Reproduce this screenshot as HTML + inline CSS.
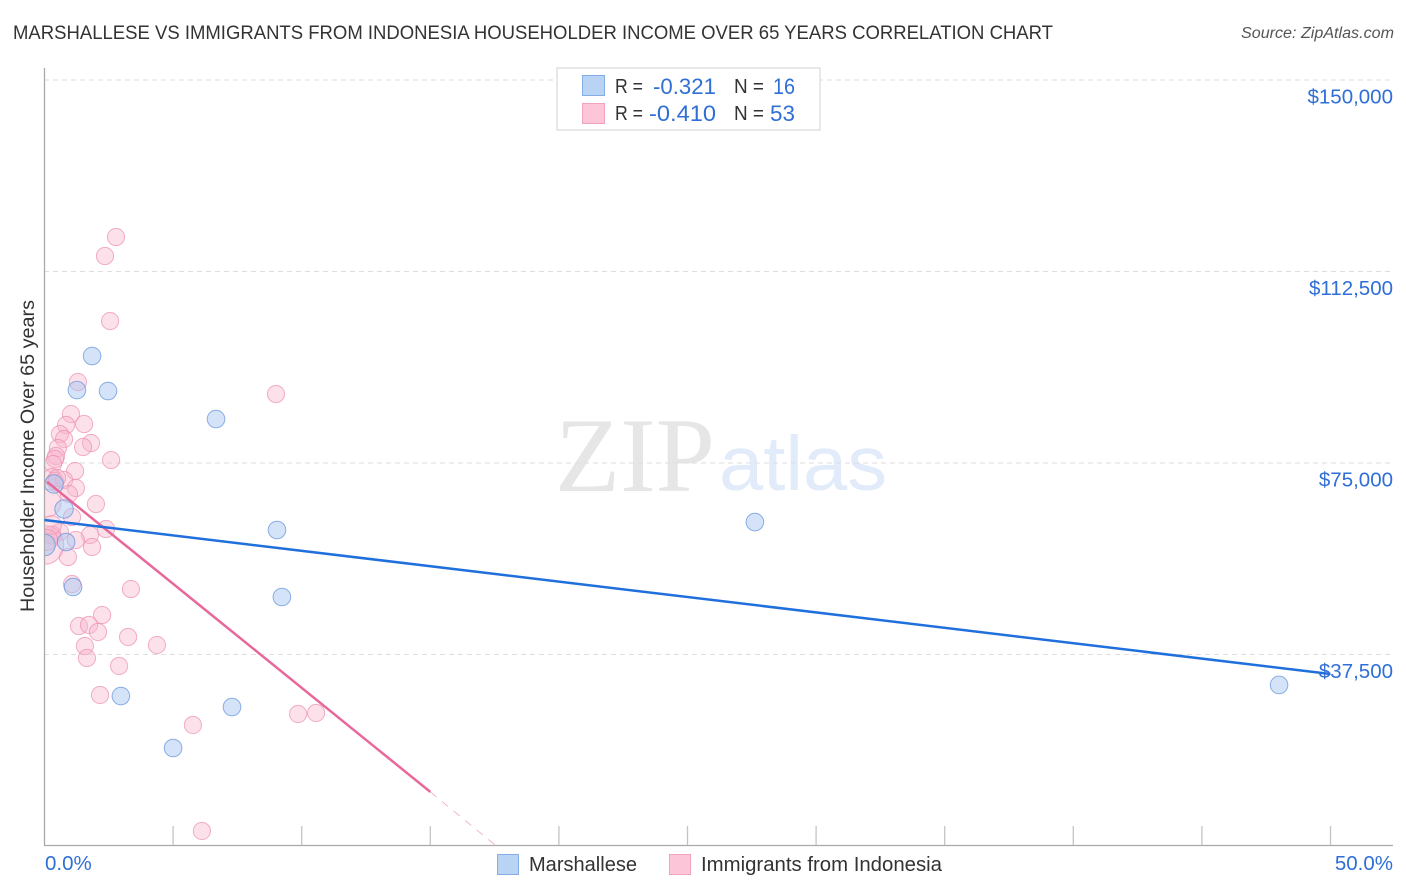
<!DOCTYPE html>
<html lang="en">
<head>
<meta charset="utf-8">
<title>Marshallese vs Immigrants from Indonesia Householder Income Over 65 Years Correlation Chart</title>
<style>
html,body{margin:0;padding:0;background:#fff;width:1406px;height:892px;overflow:hidden}
svg{display:block}
text{font-family:"Liberation Sans",sans-serif}
</style>
</head>
<body>
<svg id="chart" xmlns="http://www.w3.org/2000/svg" width="1406" height="892" viewBox="0 0 1406 892">
  <defs>
    <clipPath id="plot-clip"><rect x="45" y="68" width="1348" height="778"/></clipPath>
  </defs>
  <text x="13" y="39" font-size="19" fill="#333" textLength="1040" lengthAdjust="spacingAndGlyphs">MARSHALLESE VS IMMIGRANTS FROM INDONESIA HOUSEHOLDER INCOME OVER 65 YEARS CORRELATION CHART</text>
  <text x="1241" y="38" font-size="15.5" font-style="italic" fill="#555" textLength="153" lengthAdjust="spacingAndGlyphs">Source: ZipAtlas.com</text>

  <g>
    <text x="555" y="491" font-size="106" fill="#e6e6e6" style="font-family:'Liberation Serif',serif" textLength="160" lengthAdjust="spacingAndGlyphs">ZIP</text>
    <text x="719" y="490" font-size="77" fill="#e2ebf9" textLength="168" lengthAdjust="spacingAndGlyphs">atlas</text>
  </g>

  <g id="grid"></g>
  <g id="axes"></g>
  <g id="pink-points" clip-path="url(#plot-clip)"></g>
  <g id="blue-points" clip-path="url(#plot-clip)"></g>
  <g id="trends"></g>
  <g id="tick-labels"></g>

  <text transform="translate(34,456) rotate(-90)" font-size="19" fill="#333" text-anchor="middle" textLength="312" lengthAdjust="spacingAndGlyphs">Householder Income Over 65 years</text>

  <g>
    <rect x="557" y="68" width="263" height="62" fill="#fff" stroke="#d8d8d8" stroke-width="1.2"/>
    <rect x="582.5" y="75.5" width="22" height="20" fill="#b9d3f5" stroke="#86aee6"/>
    <rect x="582.5" y="103.5" width="22" height="20" fill="#fcc6d8" stroke="#f0a3bd"/>
    <text x="615" y="93" font-size="20" fill="#333" textLength="28" lengthAdjust="spacingAndGlyphs">R =</text>
    <text x="653" y="94" font-size="22" fill="#2f6fd6" textLength="63" lengthAdjust="spacingAndGlyphs">-0.321</text>
    <text x="734" y="93" font-size="20" fill="#333" textLength="30" lengthAdjust="spacingAndGlyphs">N =</text>
    <text x="773" y="94" font-size="22" fill="#2f6fd6" textLength="22" lengthAdjust="spacingAndGlyphs">16</text>
    <text x="615" y="120" font-size="20" fill="#333" textLength="28" lengthAdjust="spacingAndGlyphs">R =</text>
    <text x="649" y="121" font-size="22" fill="#2f6fd6" textLength="67" lengthAdjust="spacingAndGlyphs">-0.410</text>
    <text x="734" y="120" font-size="20" fill="#333" textLength="30" lengthAdjust="spacingAndGlyphs">N =</text>
    <text x="770" y="121" font-size="22" fill="#2f6fd6" textLength="25" lengthAdjust="spacingAndGlyphs">53</text>
  </g>

  <g>
    <rect x="497.5" y="854.5" width="21" height="20" fill="#b9d3f5" stroke="#86aee6"/>
    <text x="529" y="871" font-size="20" fill="#333" textLength="108" lengthAdjust="spacingAndGlyphs">Marshallese</text>
    <rect x="669.5" y="854.5" width="21" height="20" fill="#fcc6d8" stroke="#f0a3bd"/>
    <text x="701" y="871" font-size="20" fill="#333" textLength="241" lengthAdjust="spacingAndGlyphs">Immigrants from Indonesia</text>
  </g>
</svg>

<script>
var yTickValues = [150000, 112500, 75000, 37500];
var yTickLabels = ["$150,000", "$112,500", "$75,000", "$37,500"];
var xTickValues = [0, 5, 10, 15, 20, 25, 30, 35, 40, 45, 50];
var xEndLabels = ["0.0%", "50.0%"];

var marshalleseX = [1.85, 1.26, 2.47, 6.67, 0.37, 0.76, 0.84, 0, 1.11, 9.04, 9.23, 27.62, 2.97, 7.29, 5.0, 48.0];
var marshalleseY = [95950, 89290, 89090, 83610, 70880, 65990, 59530, 58940, 50720, 61880, 48760, 63440, 29370, 27220, 19190, 31530];
var marshalleseWeight = [1, 1, 1, 1, 1.1, 1.1, 1, 1.5, 1, 1, 1, 1, 1, 1, 1, 1];

var indonesiaX = [2.78, 2.35, 2.55, 9.0, 1.30, 1.03, 1.54, 0.84, 0.60, 0.76, 1.81, 1.50, 0.52, 0.45, 2.59, 0.41, 0.33, 1.19, 0.29, 0.41, 0.76, 1.22, 0.95, 2.0, 1.07, 0.10, 2.39, 0.60, 1.77, 1.22, 0.29, 1.85, 0.91, 1.07, 3.36, 2.24, 1.34, 1.73, 2.08, 3.25, 4.37, 1.57, 1.65, 2.90, 2.16, 5.77, 9.86, 10.56, 6.12, 0, 0.29, 0.10, 0.49];
var indonesiaY = [119250, 115530, 102800, 88510, 90860, 84590, 82630, 82440, 80670, 79700, 78910, 78130, 77930, 76370, 75580, 75780, 74800, 73430, 72250, 71470, 71670, 70100, 68930, 66970, 64420, 67160, 62070, 61490, 60900, 59920, 60900, 58550, 56590, 51300, 50320, 45230, 43080, 43280, 41910, 40930, 39360, 39160, 36810, 35250, 29570, 23700, 25850, 26050, 2940, 58940, 62860, 59920, 72060];
var indonesiaWeight = [1, 1, 1, 1, 1, 1, 1, 1, 1, 1, 1, 1, 1, 1, 1, 1, 1, 1, 1, 1, 1, 1, 1, 1, 1, 2.6, 1, 1, 1, 1, 1.1, 1, 1, 1, 1, 1, 1, 1, 1, 1, 1, 1, 1, 1, 1, 1, 1, 1, 1, 5, 1.2, 1.5, 1];

var marshalleseTrendX = [0, 50];
var marshalleseTrendY = [63835, 33680];
var indonesiaTrendX = [0.1, 15];
var indonesiaTrendY = [71300, 10600];
var indonesiaDashX = [15, 17.57];
var indonesiaDashY = [10600, 0];

var NS = "http://www.w3.org/2000/svg";
function sx(v) { return 44.5 + v * 25.72; }
function sy(v) { return 654.5 - (v - 37500) * 191.5 / 37500; }
function make(parent, tag, attrs) {
  var el = document.createElementNS(NS, tag);
  for (var k in attrs) { el.setAttribute(k, attrs[k]); }
  document.getElementById(parent).appendChild(el);
  return el;
}

yTickValues.forEach(function (v, i) {
  var line = make("grid", "line", { x1: 44, x2: 1393, y1: sy(v), y2: sy(v), stroke: "#dedede", "stroke-width": 1, "stroke-dasharray": "5 4" });
  
  
  var label = make("tick-labels", "text", { x: 1393, y: sy(v) + 23.5, "font-size": 20.5, fill: "#2f6fd6", "text-anchor": "end" });
  label.textContent = yTickLabels[i];
  
  
});

var yAxis = make("axes", "line", { x1: 44.5, x2: 44.5, y1: 68, y2: 846, stroke: "#aaa", "stroke-width": 1.3 });


var xAxis = make("axes", "line", { x1: 44, x2: 1393, y1: 845.5, y2: 845.5, stroke: "#aaa", "stroke-width": 1.3 });



xTickValues.slice(1).forEach(function (v) {
  var tick = make("axes", "line", { x1: sx(v), x2: sx(v), y1: 826, y2: 845, stroke: "#c4c4c4", "stroke-width": 1.3 });
  
  
});

var xLabelStart = make("tick-labels", "text", { x: 45, y: 870, "font-size": 20.5, fill: "#2f6fd6" });
xLabelStart.textContent = xEndLabels[0];


var xLabelEnd = make("tick-labels", "text", { x: 1393, y: 870, "font-size": 20.5, fill: "#2f6fd6", "text-anchor": "end" });
xLabelEnd.textContent = xEndLabels[1];



indonesiaX.forEach(function (x, i) {
  var c = make("pink-points", "circle", { cx: sx(x), cy: sy(indonesiaY[i]), r: 8.6 * Math.sqrt(indonesiaWeight[i]), fill: "#f9b6cc", "fill-opacity": 0.42, stroke: "#ec8fae", "stroke-opacity": 0.7, "stroke-width": 1 });
  
  
});

marshalleseX.forEach(function (x, i) {
  var c = make("blue-points", "circle", { cx: sx(x), cy: sy(marshalleseY[i]), r: 8.8 * Math.sqrt(marshalleseWeight[i]), fill: "#a9c8f2", "fill-opacity": 0.5, stroke: "#5f92dc", "stroke-opacity": 0.7, "stroke-width": 1 });
  
  
});

var dash = make("trends", "line", { x1: sx(indonesiaDashX[0]), y1: sy(indonesiaDashY[0]), x2: sx(indonesiaDashX[1]), y2: sy(indonesiaDashY[1]), stroke: "#e8689b", "stroke-width": 0.8, "stroke-dasharray": "8 7", "stroke-opacity": 0.6 });


var pinkLine = make("trends", "line", { x1: sx(indonesiaTrendX[0]), y1: sy(indonesiaTrendY[0]), x2: sx(indonesiaTrendX[1]), y2: sy(indonesiaTrendY[1]), stroke: "#e8689b", "stroke-width": 2.5 });


var blueLine = make("trends", "line", { x1: sx(marshalleseTrendX[0]), y1: sy(marshalleseTrendY[0]), x2: sx(marshalleseTrendX[1]), y2: sy(marshalleseTrendY[1]), stroke: "#1f6fdc", "stroke-width": 2.5 });


</script>
</body>
</html>
